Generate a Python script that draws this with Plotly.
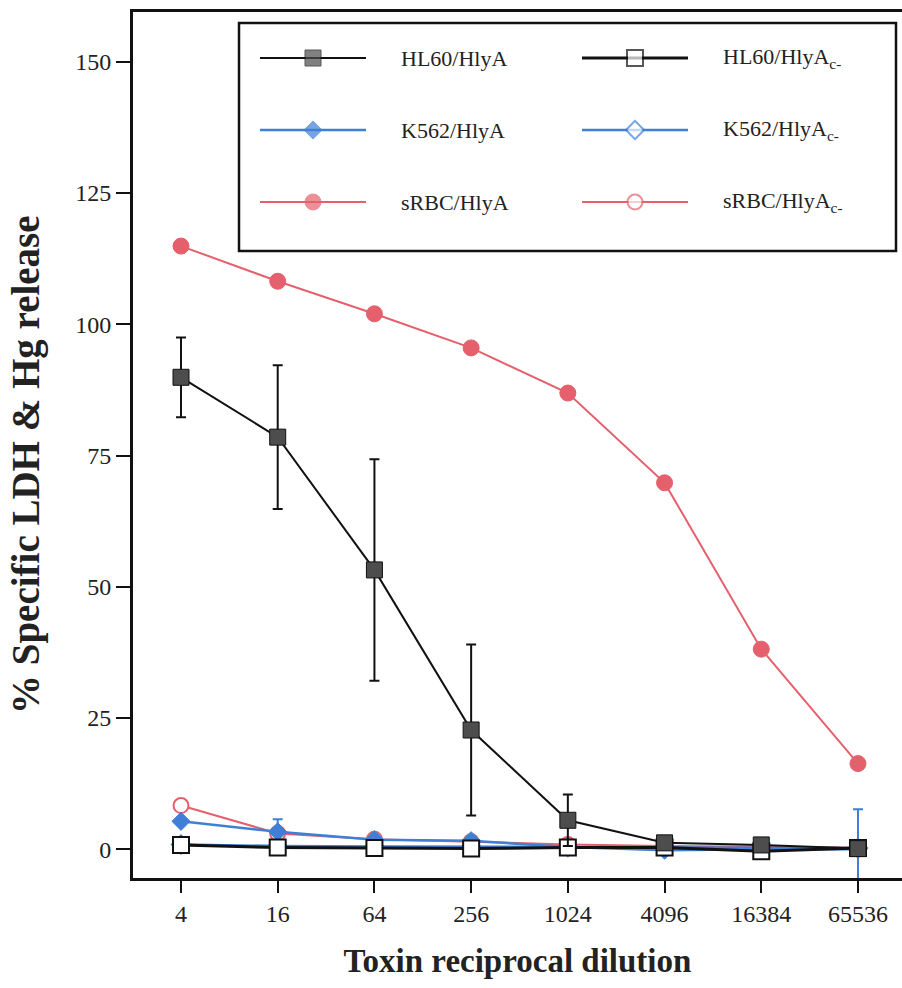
import plotly.graph_objects as go

# Reciprocal toxin dilutions (x axis)
dilution = [4, 16, 64, 256, 1024, 4096, 16384, 65536]
dilution_labels = ["4", "16", "64", "256", "1024", "4096", "16384", "65536"]

# % specific release for each target cell / toxin pair
hl60_hlya = [89.9, 78.5, 53.2, 22.7, 5.5, 1.2, 0.8, 0.1]
hl60_hlya_err = [7.6, 13.7, 21.1, 16.3, 4.9, 0.8, 0.9, 0.6]
hl60_hlyac = [0.8, 0.3, 0.2, 0.1, 0.3, 0.3, -0.4, 0.2]
hl60_hlyac_err = [0.4, 0.6, 1.2, 1.2, 0.6, 0.5, 1.2, 0.5]
k562_hlya = [5.3, 3.3, 1.8, 1.6, 0.4, -0.2, 0.0, 0.0]
k562_hlya_err = [0.6, 2.4, 0.6, 0.6, 0.8, 0.6, 0.8, 7.6]
k562_hlyac = [0.9, 0.6, 0.5, 0.5, 0.4, 0.3, 0.2, 0.2]
srbc_hlya = [114.9, 108.2, 102.0, 95.5, 86.9, 69.8, 38.1, 16.3]
srbc_hlyac = [8.3, 3.0, 1.9, 1.4, 0.9, 0.6, 0.4, 0.3]

y_ticks = [0, 25, 50, 75, 100, 125, 150]

BLACK = "#111111"
DARK = "#4d4d4d"
BLUE = "#3f7fd6"
RED = "#e4606c"
SERIF = "Liberation Serif, Times New Roman, serif"

# name, values, errors, line colour, line width, symbol, fill, size
series = [
    ("sRBC/HlyA<sub>c-</sub>", srbc_hlyac, None, RED, 2, "circle", "white", 15),
    ("K562/HlyA<sub>c-</sub>", k562_hlyac, None, BLUE, 2.5, "diamond", "white", 14),
    ("K562/HlyA", k562_hlya, k562_hlya_err, BLUE, 2.5, "diamond", BLUE, 14),
    ("HL60/HlyA<sub>c-</sub>", hl60_hlyac, hl60_hlyac_err, BLACK, 3, "square", "white", 16),
    ("HL60/HlyA", hl60_hlya, hl60_hlya_err, BLACK, 2, "square", DARK, 16),
    ("sRBC/HlyA", srbc_hlya, None, RED, 2, "circle", RED, 16),
]

fig = go.Figure()

for name, vals, errs, col, lw, sym, fill, size in series:
    err = None
    if errs is not None:
        err = dict(type="data", array=errs, visible=True, color=col,
                   thickness=2, width=5)
    fig.add_trace(go.Scatter(
        x=dilution, y=vals, name=name, mode="lines+markers",
        line=dict(color=col, width=lw),
        marker=dict(symbol=sym, size=size, color=fill,
                    line=dict(color=col, width=2 if fill == "white" else 1)),
        error_y=err, showlegend=False, cliponaxis=False,
    ))

# Legend keys drawn on a hidden pixel-scaled overlay axis
legend_order = [
    ("HL60/HlyA", 0, 0), ("HL60/HlyA<sub>c-</sub>", 0, 1),
    ("K562/HlyA", 1, 0), ("K562/HlyA<sub>c-</sub>", 1, 1),
    ("sRBC/HlyA", 2, 0), ("sRBC/HlyA<sub>c-</sub>", 2, 1),
]
legend_rows = [58, 130, 202]
legend_cols = [313, 635]
key_half = 53
text_gap = 86
style_by_name = {s[0]: s for s in series}

for name, r, c in legend_order:
    _, _, _, col, lw, sym, fill, size = style_by_name[name]
    cx, cy = legend_cols[c], legend_rows[r]
    fig.add_trace(go.Scatter(
        x=[cx - key_half, cx, cx + key_half], y=[cy, cy, cy],
        xaxis="x2", yaxis="y2", mode="lines+markers",
        line=dict(color=col, width=lw),
        marker=dict(symbol=sym, size=[0, size, 0], color=fill,
                    line=dict(color=col, width=2 if fill == "white" else 1)),
        showlegend=False, hoverinfo="skip",
    ))
    fig.add_annotation(
        x=cx + text_gap, y=cy, xref="x2", yref="y2", text=name,
        showarrow=False, xanchor="left", yanchor="middle",
        font=dict(family=SERIF, size=22, color="#222222"),
    )

fig.add_shape(type="rect", xref="x2", yref="y2", x0=239, x1=896, y0=23, y1=251,
              line=dict(color=BLACK, width=2.5), fillcolor="rgba(0,0,0,0)")

# Y axis title, rotated, placed to the left of the tick labels
fig.add_annotation(
    x=-0.139, y=0.477, xref="paper", yref="paper",
    text="<b>% Specific LDH & Hg release</b>",
    textangle=-90, showarrow=False, xanchor="center", yanchor="middle",
    font=dict(family=SERIF, size=39, color="#222222"),
)

fig.update_layout(
    width=902, height=988, autosize=False,
    margin=dict(l=133, r=0, t=12, b=110),
    paper_bgcolor="white", plot_bgcolor="white",
    font=dict(family=SERIF, color="#222222"),
    xaxis=dict(
        type="log", range=[0.30326, 5.09042],
        tickvals=dilution, ticktext=dilution_labels,
        ticks="outside", ticklen=12, tickwidth=2, tickcolor=BLACK,
        showline=True, linewidth=3, linecolor=BLACK, mirror=True,
        showgrid=False, zeroline=False,
        tickfont=dict(size=24, family=SERIF),
        title=dict(text="<b>Toxin reciprocal dilution</b>",
                   font=dict(size=33, family=SERIF), standoff=24),
    ),
    yaxis=dict(
        range=[-5.5, 159.5], tickvals=y_ticks,
        ticks="outside", ticklen=14, tickwidth=2, tickcolor=BLACK,
        showline=True, linewidth=3, linecolor=BLACK,
        showgrid=False, zeroline=False,
        tickfont=dict(size=24, family=SERIF),
    ),
    xaxis2=dict(overlaying="x", anchor="y2", range=[133, 902], visible=False),
    yaxis2=dict(overlaying="y", anchor="x2", range=[878, 12], visible=False),
)

fig.write_html("out.html")
